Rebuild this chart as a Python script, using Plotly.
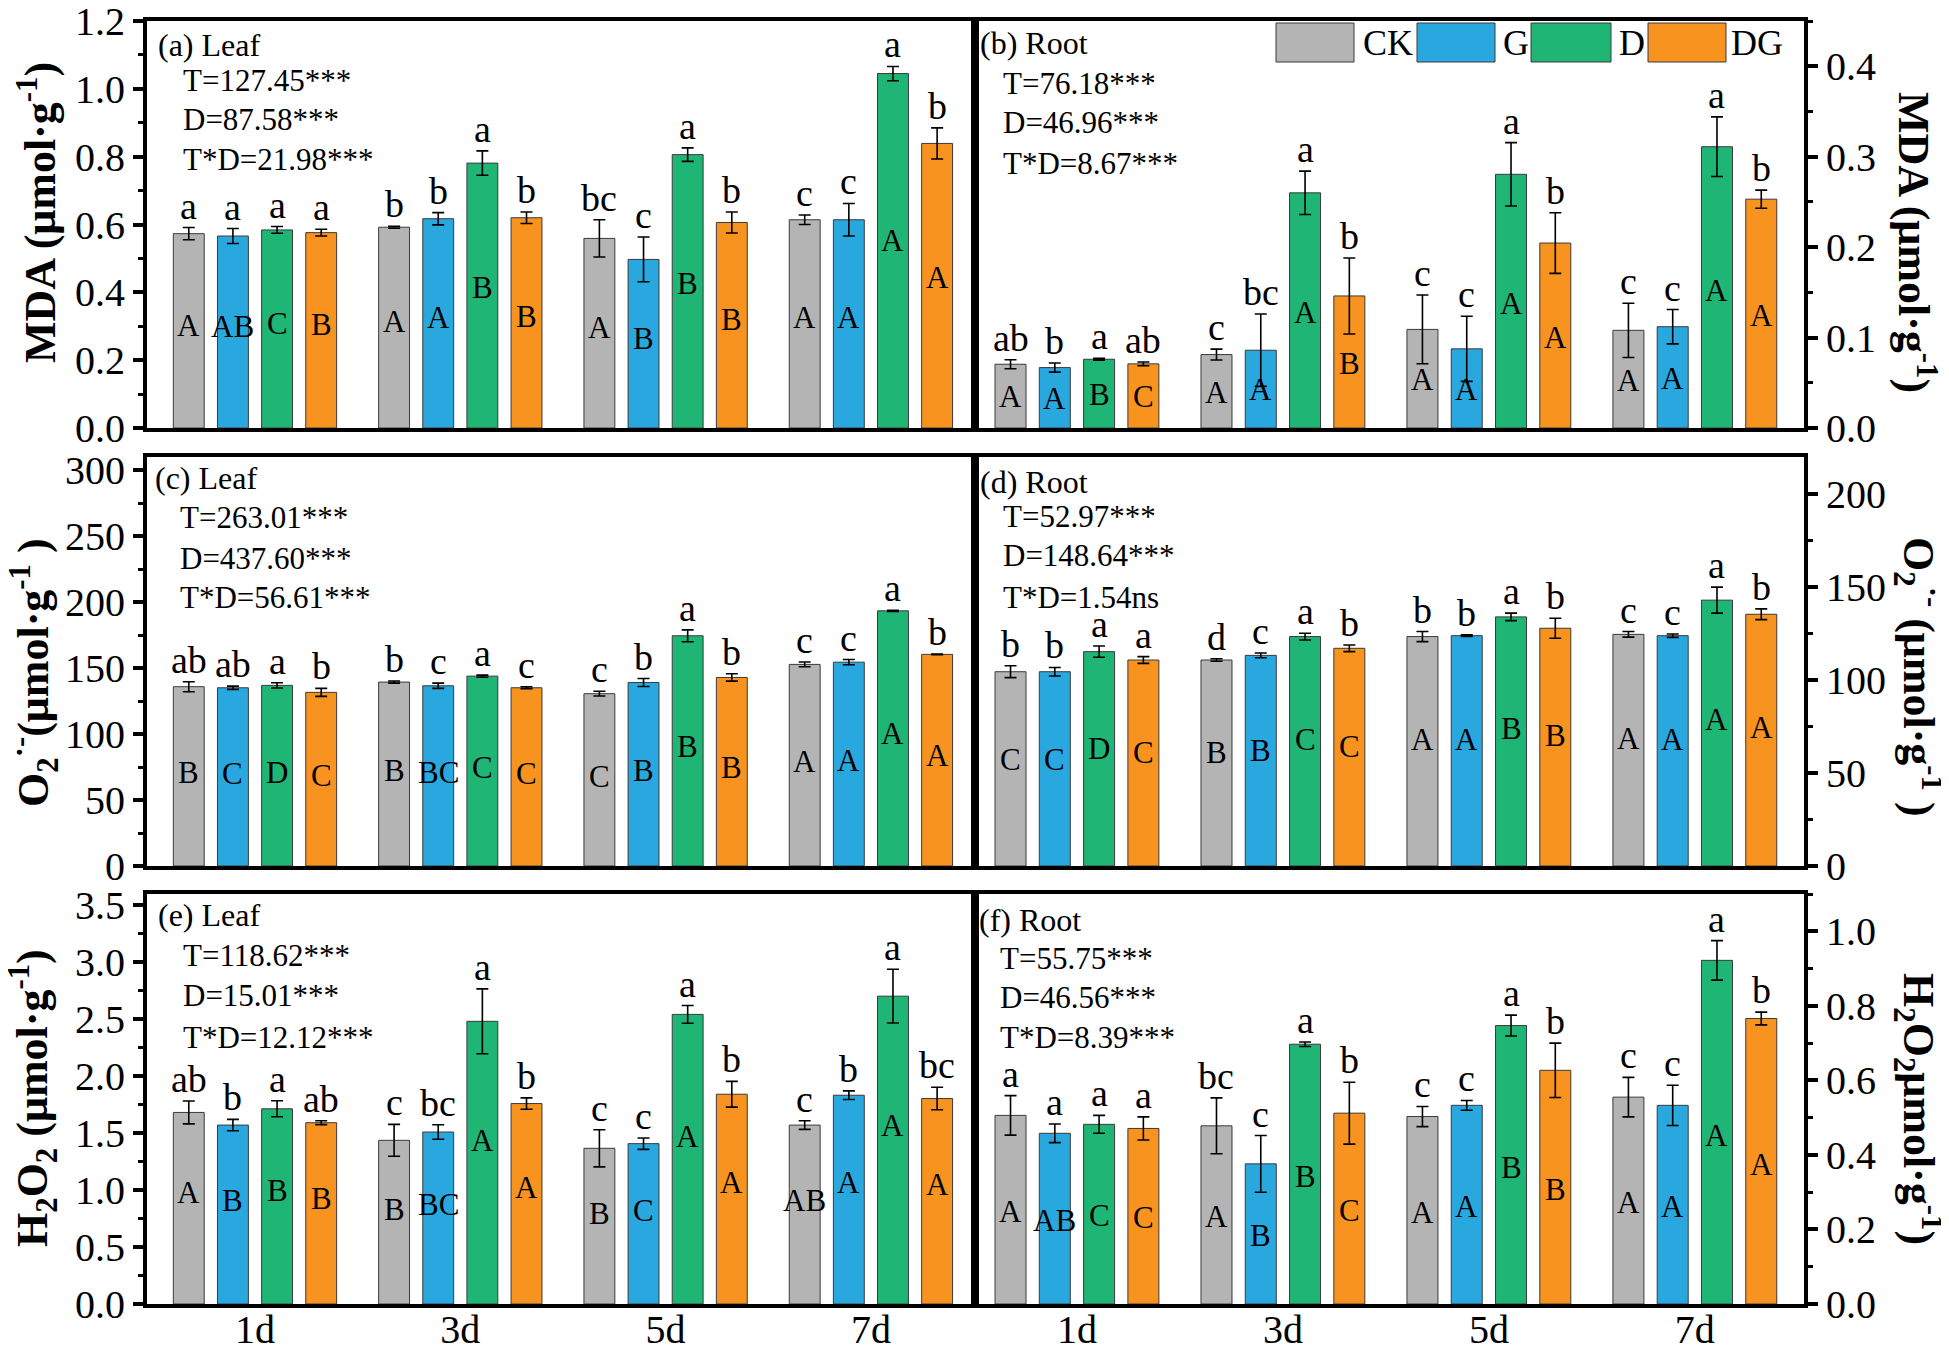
import plotly.graph_objects as go

W, H = 1949, 1350
DAYS = ["1d", "3d", "5d", "7d"]
TREATMENTS = ["CK", "G", "D", "DG"]
COLORS = ["#b4b4b4", "#29a8e0", "#1fb574", "#f7931e"]

# ---- (a) MDA, leaf ----  (rows: CK, G, D, DG ; columns: 1d, 3d, 5d, 7d)
mda_leaf_mean = [[0.573, 0.592, 0.559, 0.614], [0.566, 0.617, 0.497, 0.614],
                 [0.584, 0.781, 0.806, 1.045], [0.576, 0.620, 0.606, 0.839]]
mda_leaf_err = [[0.018, 0.003, 0.055, 0.014], [0.022, 0.018, 0.066, 0.048],
                [0.010, 0.036, 0.020, 0.021], [0.010, 0.017, 0.031, 0.046]]
mda_leaf_lower = [["a", "b", "bc", "c"], ["a", "b", "c", "c"], ["a", "a", "a", "a"], ["a", "b", "b", "b"]]
mda_leaf_upper = [["A", "A", "A", "A"], ["AB", "A", "B", "A"], ["C", "B", "B", "A"], ["B", "B", "B", "A"]]
mda_leaf_stats = ["T=127.45***", "D=87.58***", "T*D=21.98***"]

# ---- (b) MDA, root ----
mda_root_mean = [[0.0705, 0.0812, 0.109, 0.108], [0.0668, 0.086, 0.0875, 0.112],
                 [0.076, 0.260, 0.2805, 0.311], [0.0709, 0.146, 0.2045, 0.253]]
mda_root_err = [[0.005, 0.006, 0.038, 0.030], [0.005, 0.040, 0.036, 0.019],
                [0.001, 0.024, 0.035, 0.033], [0.002, 0.042, 0.0335, 0.010]]
mda_root_lower = [["ab", "c", "c", "c"], ["b", "bc", "c", "c"], ["a", "a", "a", "a"], ["ab", "b", "b", "b"]]
mda_root_upper = [["A", "A", "A", "A"], ["A", "A", "A", "A"], ["B", "A", "A", "A"], ["C", "B", "A", "A"]]
mda_root_stats = ["T=76.18***", "D=46.96***", "T*D=8.67***"]

# ---- (c) O2.- , leaf ----
o2_leaf_mean = [[135.9, 139.4, 130.6, 152.8], [135.1, 136.6, 139.1, 154.5],
                [136.9, 143.9, 174.5, 193.4], [131.6, 135.1, 142.9, 160.4]]
o2_leaf_err = [[3.8, 0.8, 1.8, 1.8], [1.2, 2.0, 3.0, 2.0],
               [2.0, 0.8, 4.5, 0.5], [3.0, 0.8, 2.8, 0.3]]
o2_leaf_lower = [["ab", "b", "c", "c"], ["ab", "c", "b", "c"], ["a", "a", "a", "a"], ["b", "c", "b", "b"]]
o2_leaf_upper = [["B", "B", "C", "A"], ["C", "BC", "B", "A"], ["D", "C", "B", "A"], ["C", "C", "B", "A"]]
o2_leaf_stats = ["T=263.01***", "D=437.60***", "T*D=56.61***"]

# ---- (d) O2.- , root ----
o2_root_mean = [[104.5, 110.8, 123.4, 124.6], [104.5, 113.3, 123.9, 123.9],
                [115.3, 123.4, 134.0, 143.0], [110.8, 117.1, 127.9, 135.4]]
o2_root_err = [[3.2, 0.7, 2.7, 1.5], [2.3, 1.3, 0.4, 0.9],
               [3.0, 1.8, 2.0, 7.0], [1.8, 1.8, 5.4, 2.9]]
o2_root_lower = [["b", "d", "b", "c"], ["b", "c", "b", "c"], ["a", "a", "a", "a"], ["a", "b", "b", "b"]]
o2_root_upper = [["C", "B", "A", "A"], ["C", "B", "A", "A"], ["D", "C", "B", "A"], ["C", "C", "B", "A"]]
o2_root_stats = ["T=52.97***", "D=148.64***", "T*D=1.54ns"]

# ---- (e) H2O2, leaf ----
h2o2_leaf_mean = [[1.682, 1.437, 1.367, 1.571], [1.571, 1.510, 1.408, 1.833],
                  [1.714, 2.482, 2.543, 2.703], [1.592, 1.760, 1.842, 1.804]]
h2o2_leaf_err = [[0.100, 0.140, 0.163, 0.038], [0.050, 0.064, 0.050, 0.038],
                 [0.070, 0.285, 0.078, 0.236], [0.017, 0.050, 0.113, 0.099]]
h2o2_leaf_lower = [["ab", "c", "c", "c"], ["b", "bc", "c", "b"], ["a", "a", "a", "a"], ["ab", "b", "b", "bc"]]
h2o2_leaf_upper = [["A", "B", "B", "AB"], ["B", "BC", "C", "A"], ["B", "A", "A", "A"], ["B", "A", "A", "A"]]
h2o2_leaf_stats = ["T=118.62***", "D=15.01***", "T*D=12.12***"]

# ---- (f) H2O2, root ----
h2o2_root_mean = [[0.506, 0.478, 0.503, 0.555], [0.458, 0.376, 0.533, 0.533],
                  [0.482, 0.697, 0.747, 0.922], [0.471, 0.512, 0.627, 0.766]]
h2o2_root_err = [[0.053, 0.075, 0.027, 0.053], [0.025, 0.076, 0.013, 0.054],
                 [0.024, 0.006, 0.028, 0.053], [0.031, 0.083, 0.073, 0.017]]
h2o2_root_lower = [["a", "bc", "c", "c"], ["a", "c", "c", "c"], ["a", "a", "a", "a"], ["a", "b", "b", "b"]]
h2o2_root_upper = [["A", "A", "A", "A"], ["AB", "B", "A", "A"], ["C", "B", "B", "A"], ["C", "C", "B", "A"]]
h2o2_root_stats = ["T=55.75***", "D=46.56***", "T*D=8.39***"]

PANEL_LABELS = ["(a) Leaf", "(b) Root", "(c) Leaf", "(d) Root", "(e) Leaf", "(f) Root"]
Y_TITLES = [
    "MDA (μmol·g<sup>-1</sup>)",
    "MDA (μmol·g<sup>-1</sup>)",
    "O<sub>2</sub><sup>·-</sup>(μmol·g<sup>-1</sup> )",
    "O<sub>2</sub><sup>·-</sup> (μmol·g<sup>-1</sup> )",
    "H<sub>2</sub>O<sub>2</sub> (μmol·g<sup>-1</sup>)",
    "H<sub>2</sub>O<sub>2</sub>μmol·g<sup>-1</sup>)",
]

# ---------------- layout helpers (styling / geometry) ----------------
FONT = "Liberation Serif"
OFF = 8  # page body margin of the html page


def px(x):
    return (x - OFF) / W


def py(y):
    return 1 - (y - OFF) / H


ROWS = [(21, 428), (457, 866), (894, 1304)]
COLS = [(147, 975), (975, 1804)]
XRANGES = [[-0.526, 3.507], [-0.495, 3.53]]
BARGAP, BARGROUPGAP = 0.14, 0.3
SLOT = (1 - BARGAP) / 4

panels = [
    dict(mean=mda_leaf_mean, err=mda_leaf_err, low=mda_leaf_lower, up=mda_leaf_upper, stats=mda_leaf_stats,
         yr=[0, 1.2], dt=0.2, fmt=".1f", frac=0.53,
         lab=(156, 45), st_x=181, st_y=[81, 120, 160], title=(37, 213)),
    dict(mean=mda_root_mean, err=mda_root_err, low=mda_root_lower, up=mda_root_upper, stats=mda_root_stats,
         yr=[0, 0.45], dt=0.1, fmt=".1f", frac=0.49,
         lab=(978, 43), st_x=1001, st_y=[83, 123, 163], title=(1917, 242)),
    dict(mean=o2_leaf_mean, err=o2_leaf_err, low=o2_leaf_lower, up=o2_leaf_upper, stats=o2_leaf_stats,
         yr=[0, 310], dt=50, fmt="d", frac=0.52,
         lab=(153, 478), st_x=178, st_y=[517, 558, 597], title=(34, 673)),
    dict(mean=o2_root_mean, err=o2_root_err, low=o2_root_lower, up=o2_root_upper, stats=o2_root_stats,
         yr=[0, 220], dt=50, fmt="d", frac=0.55,
         lab=(978, 482), st_x=1001, st_y=[516, 555, 597], title=(1918, 677)),
    dict(mean=h2o2_leaf_mean, err=h2o2_leaf_err, low=h2o2_leaf_lower, up=h2o2_leaf_upper, stats=h2o2_leaf_stats,
         yr=[0, 3.6], dt=0.5, fmt=".1f", frac=0.58,
         lab=(156, 915), st_x=181, st_y=[955, 995, 1037], title=(33, 1098)),
    dict(mean=h2o2_root_mean, err=h2o2_root_err, low=h2o2_root_lower, up=h2o2_root_upper, stats=h2o2_root_stats,
         yr=[0, 1.1], dt=0.2, fmt=".1f", frac=0.49,
         lab=(977, 920), st_x=998, st_y=[958, 997, 1037], title=(1918, 1109)),
]

fig = go.Figure()
annotations = []
layout_axes = {}
xidx = list(range(len(DAYS)))

for i, p in enumerate(panels):
    r, c = divmod(i, 2)
    sfx = "" if i == 0 else str(i + 1)
    xname, yname = "x" + sfx, "y" + sfx
    for k, tr in enumerate(TREATMENTS):
        fig.add_trace(go.Bar(
            x=xidx, y=p["mean"][k], name=tr, showlegend=False,
            xaxis=xname, yaxis=yname,
            marker=dict(color=COLORS[k], line=dict(color="#3a3a3a", width=1)),
            error_y=dict(type="data", array=p["err"][k], visible=True,
                         color="black", thickness=1.6, width=6),
        ))
        for j in xidx:
            xpos = j + (k - 1.5) * SLOT
            top = p["mean"][k][j] + p["err"][k][j]
            annotations.append(dict(
                x=xpos, y=top, xref=xname, yref=yname, text=p["low"][k][j],
                showarrow=False, xanchor="center", yanchor="bottom", yshift=-1,
                font=dict(size=38, color="black", family=FONT)))
            annotations.append(dict(
                x=xpos, y=p["mean"][k][j] * p["frac"], xref=xname, yref=yname,
                text=p["up"][k][j], showarrow=False, xanchor="center", yanchor="middle",
                font=dict(size=31, color="black", family=FONT)))

    layout_axes["xaxis" + sfx] = dict(
        domain=[px(COLS[c][0]), px(COLS[c][1])], range=XRANGES[c], anchor=yname,
        showline=True, linecolor="black", linewidth=4, mirror=True, automargin=False,
        ticks="", tickvals=xidx, ticktext=DAYS, showticklabels=(r == 2),
        ticklabeloverflow="allow", ticklabelstandoff=-13,
        tickfont=dict(size=40, color="black", family=FONT),
        showgrid=False, zeroline=False)
    layout_axes["yaxis" + sfx] = dict(
        domain=[py(ROWS[r][1]), py(ROWS[r][0])], range=p["yr"], anchor=xname,
        side="left" if c == 0 else "right", automargin=False,
        showline=True, linecolor="black", linewidth=4, mirror=True,
        ticks="outside", ticklen=10, tickwidth=4, tickcolor="black",
        tick0=0, dtick=p["dt"], tickformat=p["fmt"], ticklabeloverflow="allow",
        minor=dict(ticks="outside", ticklen=5, tickwidth=3, tickcolor="black",
                   dtick=p["dt"] / 2, tick0=0, showgrid=False),
        tickfont=dict(size=40, color="black", family=FONT),
        showgrid=False, zeroline=False)

    # panel label and statistics
    annotations.append(dict(x=px(p["lab"][0]), y=py(p["lab"][1]), xref="paper", yref="paper",
                            text=PANEL_LABELS[i], showarrow=False, xanchor="left", yanchor="middle",
                            font=dict(size=32, color="black", family=FONT)))
    for s, yy in zip(p["stats"], p["st_y"]):
        annotations.append(dict(x=px(p["st_x"]), y=py(yy), xref="paper", yref="paper",
                                text=s, showarrow=False, xanchor="left", yanchor="middle",
                                font=dict(size=31, color="black", family=FONT)))
    # axis title
    annotations.append(dict(x=px(p["title"][0]), y=py(p["title"][1]), xref="paper", yref="paper",
                            text="<b>" + Y_TITLES[i] + "</b>", showarrow=False,
                            textangle=-90 if c == 0 else 90,
                            xanchor="center", yanchor="middle",
                            font=dict(size=44, color="black", family=FONT)))

# legend drawn as boxes + labels on top of panel (b)
LEG_BOX_X = [(1276, 1354), (1417, 1495), (1531, 1611), (1648, 1726)]
LEG_TXT_X = [1361, 1501, 1617, 1729]
shapes = []
for k, tr in enumerate(TREATMENTS):
    shapes.append(dict(type="rect", xref="paper", yref="paper",
                       x0=px(LEG_BOX_X[k][0]), x1=px(LEG_BOX_X[k][1]), y0=py(62), y1=py(23),
                       fillcolor=COLORS[k], line=dict(color="#3a3a3a", width=1)))
    annotations.append(dict(x=px(LEG_TXT_X[k]), y=py(43), xref="paper", yref="paper",
                            text=tr, showarrow=False, xanchor="left", yanchor="middle",
                            font=dict(size=36, color="black", family=FONT)))

fig.update_layout(
    width=W, height=H, margin=dict(l=0, r=0, t=0, b=0, pad=0, autoexpand=False),
    paper_bgcolor="white", plot_bgcolor="white",
    barmode="group", bargap=BARGAP, bargroupgap=BARGROUPGAP,
    font=dict(family=FONT, color="black"),
    annotations=annotations, shapes=shapes, showlegend=False,
    **layout_axes,
)

fig.write_html("out.html")
